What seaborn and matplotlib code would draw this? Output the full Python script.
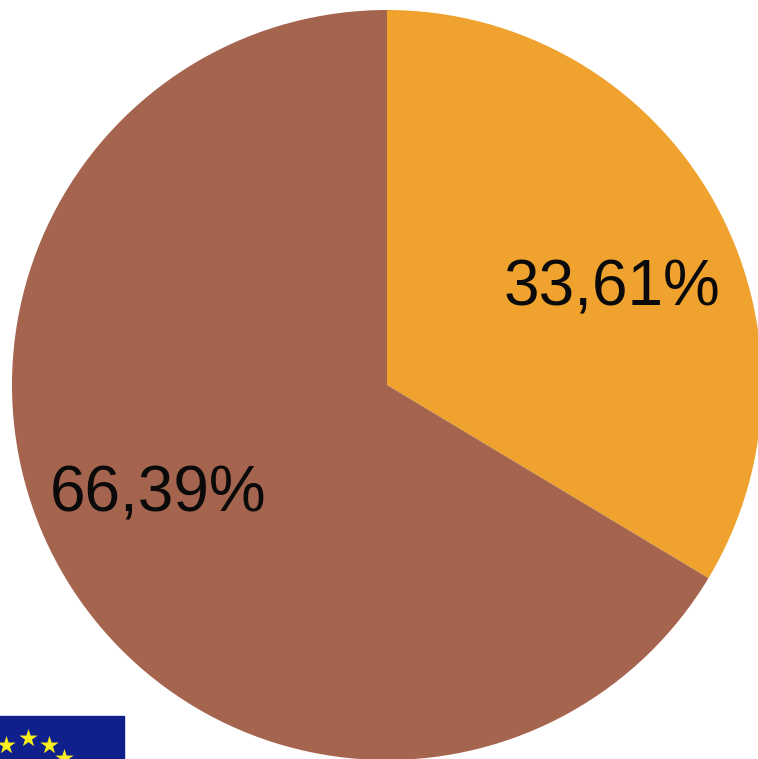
import seaborn as sns
import matplotlib.pyplot as plt
from matplotlib.patches import Rectangle

shares = [33.61, 66.39]
labels = ['33,61%', '66,39%']
colors = ['#EFA22E', '#A5644E']

sns.set_theme(style='white')
plt.rcParams['font.family'] = ['Liberation Sans', 'DejaVu Sans']

W, H = 758, 759
fig = plt.figure(figsize=(W / 100, H / 100), dpi=100)
ax = fig.add_axes([0, 0, 1, 1])

# y axis is flipped (pixel coords), so start at -90 to begin at 12 o'clock going clockwise
ax.pie(shares, colors=colors, startangle=-90, counterclock=True,
       center=(387, 385), radius=375, frame=True, wedgeprops={'linewidth': 0})
ax.set_xlim(0, W)
ax.set_ylim(H, 0)
ax.set_aspect('equal')
ax.axis('off')

ax.text(612, 289, labels[0], fontsize=46, color='#0A0A0A', ha='center', va='center')
ax.text(158, 495, labels[1], fontsize=46, color='#0A0A0A', ha='center', va='center')

# EU flag corner
ax.add_patch(Rectangle((0, 716), 124, 50, color='#0F1F8C', zorder=3))
for sx, sy in [(6, 745), (28, 738), (49, 745), (64, 758)]:
    ax.scatter(sx, sy, marker='*', s=190, color='#F7EE1E', zorder=4, linewidths=0)

fig.savefig('out.png', dpi=100)
